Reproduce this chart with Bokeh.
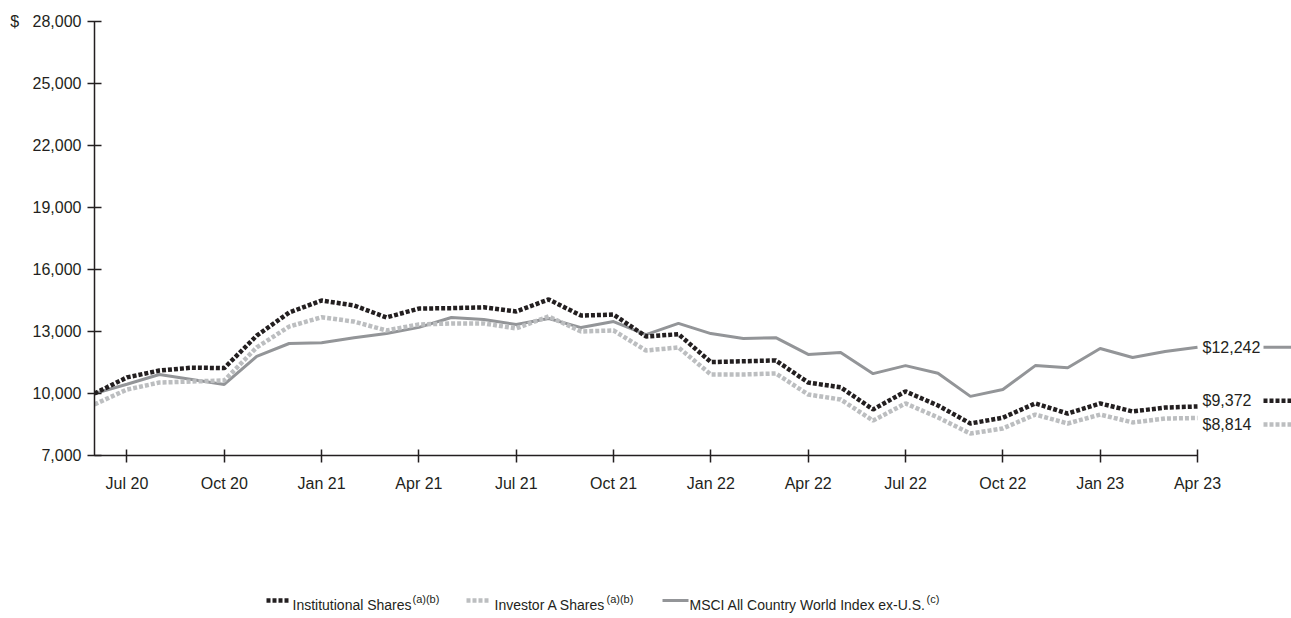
from bokeh.plotting import figure
from bokeh.models import Range1d, FixedTicker, NumeralTickFormatter
from bokeh.layouts import column
from bokeh.core.properties import value
from bokeh.embed import file_html
from bokeh.resources import INLINE

# Growth of a hypothetical $10,000 investment, month-end values
months = [
    "Jun 20", "Jul 20", "Aug 20", "Sep 20", "Oct 20", "Nov 20", "Dec 20",
    "Jan 21", "Feb 21", "Mar 21", "Apr 21", "May 21", "Jun 21", "Jul 21",
    "Aug 21", "Sep 21", "Oct 21", "Nov 21", "Dec 21", "Jan 22", "Feb 22",
    "Mar 22", "Apr 22", "May 22", "Jun 22", "Jul 22", "Aug 22", "Sep 22",
    "Oct 22", "Nov 22", "Dec 22", "Jan 23", "Feb 23", "Mar 23", "Apr 23",
]
institutional = [
    10000, 10780, 11110, 11250, 11230, 12800, 13920, 14500, 14260, 13680,
    14110, 14130, 14170, 13970, 14550, 13770, 13820, 12760, 12870, 11520,
    11560, 11600, 10530, 10300, 9230, 10100, 9420, 8550, 8830, 9520,
    9030, 9520, 9130, 9320, 9372,
]
investor_a = [
    9475, 10190, 10530, 10580, 10630, 12230, 13240, 13690, 13480, 13050,
    13340, 13390, 13390, 13150, 13730, 13000, 13050, 12080, 12230, 10920,
    10920, 10970, 9950, 9710, 8690, 9520, 8840, 8060, 8310, 8980,
    8550, 8980, 8600, 8790, 8814,
]
msci = [
    10000, 10450, 10920, 10680, 10440, 11800, 12420, 12460, 12700, 12900,
    13200, 13680, 13580, 13340, 13630, 13190, 13480, 12850, 13390, 12900,
    12660, 12700, 11890, 11980, 10960, 11350, 10980, 9860, 10190, 11350,
    11250, 12180, 11740, 12030, 12242,
]
tick_labels = ["Jul 20", "Oct 20", "Jan 21", "Apr 21", "Jul 21", "Oct 21",
               "Jan 22", "Apr 22", "Jul 22", "Oct 22", "Jan 23", "Apr 23"]
y_ticks = [7000, 10000, 13000, 16000, 19000, 22000, 25000, 28000]

FONT = "Liberation Sans"
INK = "#231f20"
C_INST = "#231f20"
C_INVA = "#bcbec0"
C_MSCI = "#939598"

x = list(range(len(months)))
last = x[-1]

# frame: left edge at 94px, last month at 1197px, right edge at 1291px
W, H = 1291, 500
LEFT, TOP, BOTTOM = 94, 21, 45
px_per_month = (1197 - LEFT) / last
x_end = (W - LEFT) / px_per_month

p = figure(width=W, height=H,
           x_range=Range1d(0, x_end), y_range=Range1d(7000, 28000),
           output_backend="svg", toolbar_location=None,
           min_border_left=LEFT, min_border_right=0,
           min_border_top=TOP, min_border_bottom=BOTTOM)
p.outline_line_color = None
p.xgrid.visible = False
p.ygrid.visible = False
p.background_fill_color = "white"
p.border_fill_color = "white"

for ax in (p.xaxis[0], p.yaxis[0]):
    ax.axis_line_color = INK
    ax.axis_line_width = 1.5
    ax.major_tick_line_color = INK
    ax.major_tick_line_width = 1.5
    ax.minor_tick_line_color = None
    ax.major_label_text_font = FONT
    ax.major_label_text_font_size = "16px"
    ax.major_label_text_color = INK

xa = p.xaxis[0]
xa.bounds = (0, last)
xa.ticker = FixedTicker(ticks=[months.index(t) for t in tick_labels])
xa.major_label_overrides = {months.index(t): t for t in tick_labels}
xa.major_tick_in = 6
xa.major_tick_out = 7
xa.major_label_standoff = 12

ya = p.yaxis[0]
ya.ticker = FixedTicker(ticks=y_ticks)
ya.formatter = NumeralTickFormatter(format="0,0")
ya.major_label_overrides = {y_ticks[-1]: "$\u00a0\u00a0\u00a0" + f"{y_ticks[-1]:,}"}
ya.major_tick_in = 7
ya.major_tick_out = 7
ya.major_label_standoff = 6

# series
p.line(x, msci, line_color=C_MSCI, line_width=3)
p.line(x, investor_a, line_color=C_INVA, line_width=4.5, line_dash="4 2")
p.line(x, institutional, line_color=C_INST, line_width=4.5, line_dash="4 2")

# ending values at the right of the last month
lab_x = last + 5 / px_per_month
seg_x0 = last + 66 / px_per_month
ends = [
    (msci[-1], msci[-1], C_MSCI, None, 3),
    (institutional[-1], institutional[-1] + 280, C_INST, "4 2", 4.5),
    (investor_a[-1], investor_a[-1] - 310, C_INVA, "4 2", 4.5),
]
for v, ypos, col, dash, lw in ends:
    p.text(x=[lab_x], y=[ypos], text=[f"${v:,.0f}"],
           text_font=value(FONT), text_font_size="16px", text_color=INK,
           text_baseline="middle", text_align="left")
    kw = dict(line_color=col, line_width=lw)
    if dash:
        kw["line_dash"] = dash
    p.line([seg_x0, x_end], [ypos, ypos], **kw)

# legend row; its frame lines up with the chart frame (x from LEFT to W)
LH = 618 - H
lg = figure(width=W, height=LH, x_range=Range1d(LEFT, W), y_range=Range1d(0, LH),
            output_backend="svg", toolbar_location=None,
            min_border=0, min_border_left=LEFT, min_border_right=0,
            min_border_top=0, min_border_bottom=0)
lg.axis.visible = False
lg.xgrid.visible = False
lg.ygrid.visible = False
lg.outline_line_color = None
lg.background_fill_color = "white"
lg.border_fill_color = "white"

ly = LH - 104
items = [
    (266, 290, 292, "Institutional Shares", 412, "(a)(b)", C_INST, "4 2", 4.5),
    (466, 490, 494, "Investor A Shares", 606, "(a)(b)", C_INVA, "4 2", 4.5),
    (662, 688, 689, "MSCI All Country World Index ex-U.S.", 926, "(c)", C_MSCI, None, 3),
]
for s0, s1, tx, label, sx, sup, col, dash, lw in items:
    kw = dict(line_color=col, line_width=lw)
    if dash:
        kw["line_dash"] = dash
    lg.line([s0, s1], [ly + 4, ly + 4], **kw)
    lg.text(x=[tx], y=[ly], text=[label], text_font=value(FONT),
            text_font_size="14px", text_color=INK,
            text_baseline="alphabetic", text_align="left")
    lg.text(x=[sx], y=[ly + 6], text=[sup], text_font=value(FONT),
            text_font_size="11px", text_color=INK,
            text_baseline="alphabetic", text_align="left")

layout = column(p, lg, spacing=0)
open("out.html", "w").write(file_html(layout, INLINE))
